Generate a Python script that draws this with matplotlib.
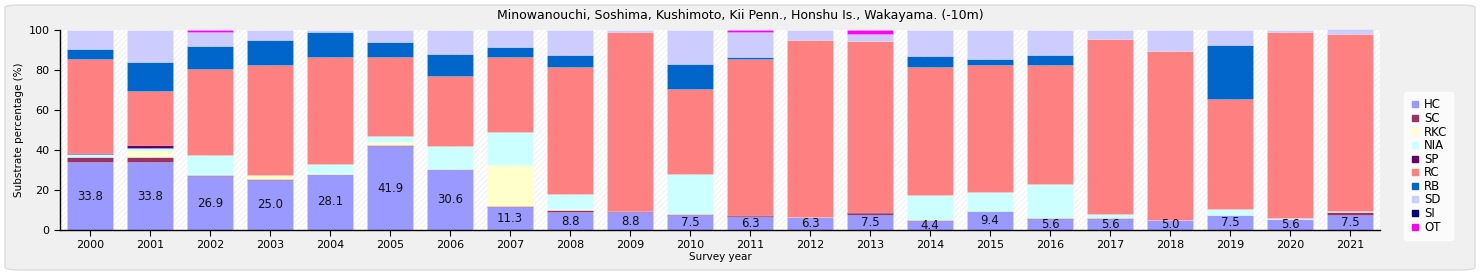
import numpy as np
import matplotlib
matplotlib.use("Agg")
import matplotlib.pyplot as plt
from matplotlib.patches import FancyBboxPatch, Rectangle
from matplotlib.lines import Line2D

# Survey years and substrate categories
years = [str(y) for y in range(2000, 2022)]
categories = ["HC", "SC", "RKC", "NIA", "SP", "RC", "RB", "SD", "SI", "OT"]
colors = ["#9999ff", "#993366", "#ffffcc", "#ccffff", "#660066",
          "#ff8080", "#0066cc", "#ccccff", "#000080", "#ff00ff"]

# Percentages per category, one value per year
HC  = [33.8, 33.8, 26.9, 25.0, 28.1, 41.9, 30.6, 11.3, 8.8, 8.8, 7.5, 6.3, 6.3, 7.5, 4.4, 9.4, 5.6, 5.6, 5.0, 7.5, 5.6, 7.5]
SC  = [2.5, 2.5, 0.7, 0.5, 0.0, 0.6, 0.0, 0.7, 1.0, 0.5, 0.5, 0.8, 0.0, 0.8, 0.4, 0.0, 0.5, 0.4, 0.0, 0.0, 0.0, 1.5]
RKC = [0.0, 3.2, 0.0, 1.8, 0.5, 1.4, 0.0, 20.7, 0.8, 0.0, 0.0, 0.0, 0.0, 0.0, 0.0, 0.0, 0.0, 0.0, 0.0, 0.0, 0.0, 0.0]
NIA = [1.9, 1.7, 10.1, 0.0, 4.5, 3.2, 11.4, 16.1, 7.4, 0.0, 20.2, 0.0, 0.0, 0.0, 12.7, 9.4, 16.9, 1.9, 0.0, 3.0, 0.3, 0.5]
SP  = [0.4, 1.3, 0.0, 0.0, 0.0, 0.0, 0.0, 0.0, 0.0, 0.4, 0.0, 0.5, 0.0, 0.7, 0.0, 0.0, 0.0, 0.0, 0.0, 0.0, 0.0, 0.0]
RC  = [47.1, 27.0, 43.0, 55.4, 53.2, 39.2, 35.0, 37.5, 63.3, 89.3, 42.5, 78.1, 88.7, 85.5, 63.8, 63.9, 59.5, 87.6, 84.5, 55.2, 93.0, 88.5]
RB  = [5.0, 14.5, 11.3, 12.5, 12.5, 7.5, 11.0, 5.0, 6.4, 0.0, 12.3, 0.8, 0.0, 0.0, 5.7, 2.8, 5.0, 0.0, 0.0, 26.8, 0.0, 0.0]
SD  = [9.3, 16.0, 6.8, 4.8, 1.2, 6.2, 12.0, 8.7, 12.3, 1.0, 17.0, 12.3, 5.0, 3.5, 13.0, 14.5, 12.5, 4.5, 10.5, 7.5, 1.1, 2.5]
SI  = [0.0] * 22
OT  = [0.0, 0.0, 1.2, 0.0, 0.0, 0.0, 0.0, 0.0, 0.0, 0.0, 0.0, 1.2, 0.0, 2.0, 0.0, 0.0, 0.0, 0.0, 0.0, 0.0, 0.0, 0.0]

series = [HC, SC, RKC, NIA, SP, RC, RB, SD, SI, OT]

plt.rcParams["hatch.linewidth"] = 0.5
fig = plt.figure(figsize=(14.8, 2.75), dpi=100, facecolor="white")

# Grey rounded panel behind everything
panel = FancyBboxPatch((5 / 1480, 5 / 275), 1470 / 1480, 265 / 275,
                       boxstyle="round,pad=0,rounding_size=0.01",
                       transform=fig.transFigure, facecolor="#f0f0f0",
                       edgecolor="#dcdcdc", linewidth=1.0, zorder=-10)
fig.patches.append(panel)

ax = fig.add_axes([60 / 1480, 45 / 275, 1320 / 1480, 200 / 275])
ax.set_facecolor("white")
ax.add_patch(Rectangle((0, 0), 1, 1, transform=ax.transAxes, facecolor="white",
                       edgecolor="#ebebeb", hatch="//////", linewidth=0, zorder=0))

x = np.arange(len(years))
bottom = np.zeros(len(years))
for name, vals, c in zip(categories, series, colors):
    vals = np.array(vals)
    ax.bar(x, vals, width=0.78, bottom=bottom, color=c, edgecolor=(1, 1, 1, 0.2),
           linewidth=0.4, zorder=2, clip_on=False, label=name)
    bottom += vals

# HC value labels
for xi, v in zip(x, HC):
    ax.text(xi, v / 2, f"{v:.1f}", ha="center", va="center", fontsize=8.5,
            color="#111111", zorder=3)

ax.set_xlim(-0.5, len(years) - 0.5)
ax.set_ylim(0, 100)
ax.set_xticks(x)
ax.set_xticklabels(years, fontsize=8)
ax.set_yticks(range(0, 101, 20))
ax.tick_params(axis="y", labelsize=8, length=4, direction="out")
ax.tick_params(axis="x", length=4, direction="out")
for s in ["top", "right"]:
    ax.spines[s].set_visible(False)
ax.spines["left"].set_linewidth(1.0)
ax.spines["bottom"].set_linewidth(1.0)

ax.set_ylabel("Substrate percentage (%)", fontsize=7.5, labelpad=3)
ax.set_xlabel("Survey year", fontsize=7.5, labelpad=1)
fig.text(740 / 1480, 1 - 15 / 275, "Minowanouchi, Soshima, Kushimoto, Kii Penn., Honshu Is., Wakayama. (-10m)",
         ha="center", va="center", fontsize=9)

handles = [Line2D([0], [0], marker="s", linestyle="", markersize=4.5,
                  markerfacecolor=c, markeredgecolor=c) for c in colors]
leg = fig.legend(handles, categories, loc="center left",
                 bbox_to_anchor=(1398 / 1480, 1 - 166 / 275), fontsize=8.5,
                 frameon=True, handlelength=0.8, handletextpad=0.4,
                 labelspacing=0.05, borderpad=0.5, fancybox=True)
leg.get_frame().set_edgecolor("white")
leg.get_frame().set_facecolor("white")

fig.savefig("out.png", dpi=100, facecolor=fig.get_facecolor())
